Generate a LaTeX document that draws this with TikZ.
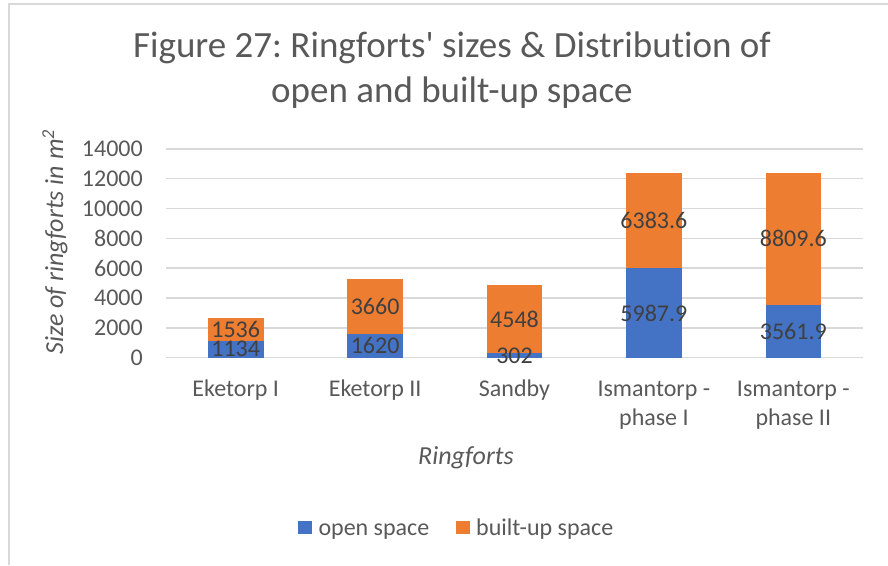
\documentclass[tikz,border=0pt]{standalone}
\usepackage{fontspec}
\setmainfont{Carlito}[Ligatures=NoCommon]
\frenchspacing
\definecolor{openblue}{HTML}{4472C4}
\definecolor{builtorange}{HTML}{ED7D31}
\definecolor{gridgray}{HTML}{D9D9D9}
\definecolor{textgray}{HTML}{595959}
\definecolor{valuegray}{HTML}{404040}
\begin{document}
\begin{tikzpicture}[x=1pt,y=1pt]
    \tikzstyle{frame} = [draw=gridgray, line width=2pt]
    \tikzstyle{grid} = [draw=gridgray, line width=1.5pt]
    \tikzstyle{openbar} = [fill=openblue]
    \tikzstyle{builtbar} = [fill=builtorange]
    \tikzstyle{tick} = [anchor=east, inner sep=0pt, text=textgray, font=\fontsize{24}{29}\selectfont]
    \tikzstyle{value} = [inner sep=0pt, text=valuegray, font=\fontsize{24}{29}\selectfont]
    \tikzstyle{category} = [anchor=base, align=center, inner sep=0pt, text=textgray, font=\fontsize{24}{29}\selectfont]
    \tikzstyle{axistitle} = [inner sep=0pt, text=textgray, font=\fontsize{26}{32}\selectfont\itshape]
    \tikzstyle{legendtext} = [anchor=base west, inner sep=0pt, text=textgray, font=\fontsize{24}{29}\selectfont]

    \useasboundingbox (0,0) rectangle (888,565);

    % chart area border (top and left only)
    \draw[frame] (888,561) -- (9,561) -- (9,0);

    % Title (base anchor sits on the second line)
    \node [anchor=base, align=center, inner sep=0pt, text=textgray, font=\fontsize{37}{45}\selectfont] (title) at (452,462.3) {Figure 27: Ringforts\textquotesingle{} sizes \& Distribution of\\open and built-up space};

    % Plot area, values in m^2
    \begin{scope}[shift={(166,207.3)}, y=0.014929pt]
        % gridlines
        \draw[grid] (0,0) -- (697,0);
        \draw[grid] (0,2000) -- (697,2000);
        \draw[grid] (0,4000) -- (697,4000);
        \draw[grid] (0,6000) -- (697,6000);
        \draw[grid] (0,8000) -- (697,8000);
        \draw[grid] (0,10000) -- (697,10000);
        \draw[grid] (0,12000) -- (697,12000);
        \draw[grid] (0,14000) -- (697,14000);

        % tick labels
        \node [tick] (t0) at (-23,0) {0};
        \node [tick] (t2) at (-23,2000) {2000};
        \node [tick] (t4) at (-23,4000) {4000};
        \node [tick] (t6) at (-23,6000) {6000};
        \node [tick] (t8) at (-23,8000) {8000};
        \node [tick] (t10) at (-23,10000) {10000};
        \node [tick] (t12) at (-23,12000) {12000};
        \node [tick] (t14) at (-23,14000) {14000};

        % Eketorp I
        \fill[openbar] (41.9,0) rectangle (97.5,1134);
        \fill[builtbar] (41.9,1134) rectangle (97.5,2670);
        \node [value] (eketorpIopen) at (69.7,567) {1134};
        \node [value] (eketorpIbuilt) at (69.7,1902) {1536};

        % Eketorp II
        \fill[openbar] (181.3,0) rectangle (236.9,1620);
        \fill[builtbar] (181.3,1620) rectangle (236.9,5280);
        \node [value] (eketorpIIopen) at (209.1,810) {1620};
        \node [value] (eketorpIIbuilt) at (209.1,3450) {3660};

        % Sandby
        \fill[openbar] (320.7,0) rectangle (376.3,302);
        \fill[builtbar] (320.7,302) rectangle (376.3,4850);
        \node [value] (sandbyopen) at (348.5,151) {302};
        \node [value] (sandbybuilt) at (348.5,2576) {4548};

        % Ismantorp - phase I
        \fill[openbar] (460.1,0) rectangle (515.7,5987.9);
        \fill[builtbar] (460.1,5987.9) rectangle (515.7,12371.5);
        \node [value] (ismIopen) at (487.9,2993.95) {5987.9};
        \node [value] (ismIbuilt) at (487.9,9179.7) {6383.6};

        % Ismantorp - phase II
        \fill[openbar] (599.5,0) rectangle (655.1,3561.9);
        \fill[builtbar] (599.5,3561.9) rectangle (655.1,12371.5);
        \node [value] (ismIIopen) at (627.3,1780.95) {3561.9};
        \node [value] (ismIIbuilt) at (627.3,7966.7) {8809.6};
    \end{scope}

    % category labels
    \node [category] (catEketorpI) at (235.7,168.3) {Eketorp I};
    \node [category] (catEketorpII) at (375.1,168.3) {Eketorp II};
    \node [category] (catSandby) at (514.5,168.3) {Sandby};
    \node [category] (catIsmI) at (653.9,139.3) {Ismantorp -\\phase I};
    \node [category] (catIsmII) at (793.3,139.3) {Ismantorp -\\phase II};

    % axis titles
    \node [axistitle, anchor=base] (xtitle) at (466,101) {Ringforts};
    \node [axistitle, rotate=90] (ytitle) at (55,323) {Size of ringforts in m\textsuperscript{2}};

    % Legend
    \fill[openblue] (298.3,30.7) rectangle (311.7,44.3);
    \node [legendtext] (legopen) at (318.3,30) {open space};
    \fill[builtorange] (456,30.7) rectangle (470,44.3);
    \node [legendtext] (legbuilt) at (476,30) {built-up space};
\end{tikzpicture}
\end{document}
